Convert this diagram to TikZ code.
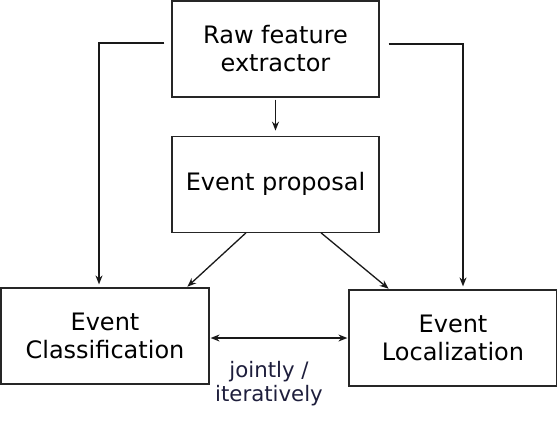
\documentclass[tikz,border=0pt]{standalone}
\usepackage{fontspec}
\setmainfont{DejaVu Sans}
\usetikzlibrary{positioning, arrows.meta}

\begin{document}
\begin{tikzpicture}[
  x=1pt, y=-1pt,
  font=\fontsize{24}{28}\selectfont,
  >={Stealth[length=9pt, width=7pt]},
  stage/.style={draw=black!85, line width=1.2pt, align=center, minimum width=207pt, minimum height=96pt, inner sep=0pt},
  arr/.style={->, line width=1.3pt, black!90},
  note/.style={align=center, font=\fontsize{21.3}{24}\selectfont, text={rgb,255:red,30;green,30;blue,60}},
]
\useasboundingbox (0,0) rectangle (557,442);

% ---- top chain ----
\node[stage] (raw) at (275.5,49) {Raw feature\\extractor};
\node[stage, below=38pt of raw] (prop) {Event proposal};
\draw[arr, shorten <=2pt, shorten >=5pt] (raw) -- (prop);

% ---- the two tasks ----
\node[stage, minimum width=208pt] (cls) at (105,336) {Event\\Classification};
\node[stage, minimum width=208pt] (loc) at (453,338) {Event\\Localization};

% raw features go straight to both tasks
\draw[arr, shorten >=3pt] ([xshift=-7pt, yshift=6pt]raw.west) -| ([xshift=-6pt]cls.north);
\draw[arr, shorten >=3pt] ([xshift=9pt, yshift=5pt]raw.east) -| ([xshift=10pt]loc.north);

% proposals feed both tasks
\draw[arr, shorten >=1pt] ([xshift=-29.5pt]prop.south) -- ([xshift=-23pt]cls.north east);
\draw[arr, shorten >=1pt] ([xshift=45.5pt]prop.south) -- ([xshift=41pt]loc.north west);

% coupling between the tasks
\draw[arr, <->, shorten <=1pt, shorten >=1pt] ([yshift=-2pt]cls.east) -- (loc.west);
\node[note] (joint) at (269,384) {jointly /\\iteratively};

\end{tikzpicture}
\end{document}
